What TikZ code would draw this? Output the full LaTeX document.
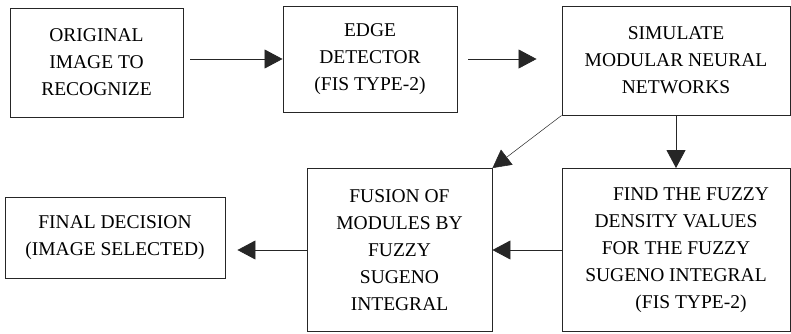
\documentclass[tikz,border=0pt]{standalone}
\usepackage{fontspec}
\setmainfont{Liberation Serif}
\usepackage{tikz}
\usetikzlibrary{arrows.meta}

\tikzset{
  stage/.style={draw=black!85, line width=0.9pt, align=center, inner sep=0pt,
    font=\fontsize{19.5}{27}\selectfont},
  flow/.style={-{Triangle[length=18pt,width=19pt]}, line width=0.8pt, black!85}
}

\begin{document}
\begin{tikzpicture}[x=1pt, y=-1pt]
  \useasboundingbox (0,0) rectangle (791,333);

  % top row
  \node[stage, minimum width=173pt, minimum height=109pt] (orig) at (96.5,62.5)
    {ORIGINAL\\IMAGE TO\\RECOGNIZE};
  \node[stage, minimum width=174pt, minimum height=106pt] (edge) at (370,59)
    {EDGE\\DETECTOR\\(FIS TYPE-2)};
  \node[stage, minimum width=228pt, minimum height=109pt] (sim) at (676,60.5)
    {SIMULATE\\MODULAR NEURAL\\NETWORKS};

  % bottom row
  \node[stage, minimum width=220pt, minimum height=81pt] (final) at (115,237.5)
    {FINAL DECISION\\(IMAGE SELECTED)};
  \node[stage, minimum width=185pt, minimum height=163pt] (fusion) at (399.5,250)
    {FUSION OF\\MODULES BY\\FUZZY\\SUGENO\\INTEGRAL};
  \node[stage, minimum width=228pt, minimum height=163pt] (dens) at (676,250)
    {\hspace*{30pt}FIND THE FUZZY\\DENSITY VALUES\\FOR THE FUZZY\\SUGENO INTEGRAL\\\hspace*{30pt}(FIS TYPE-2)};

  \draw[flow, shorten <=7pt] (orig.east |- edge.east) -- (edge.east -| edge.west);
  \draw[flow, shorten <=11pt, shorten >=25pt] (edge.east) -- (edge.east -| sim.west);
  \draw[flow] (sim.south) -- (dens.north);
  \draw[flow, line width=0.5pt] (sim.south west) -- (fusion.north east);
  \draw[flow] (dens.west) -- (fusion.east);
  \draw[flow, shorten >=12pt] (fusion.west) -- (fusion.west -| final.east);
\end{tikzpicture}
\end{document}
